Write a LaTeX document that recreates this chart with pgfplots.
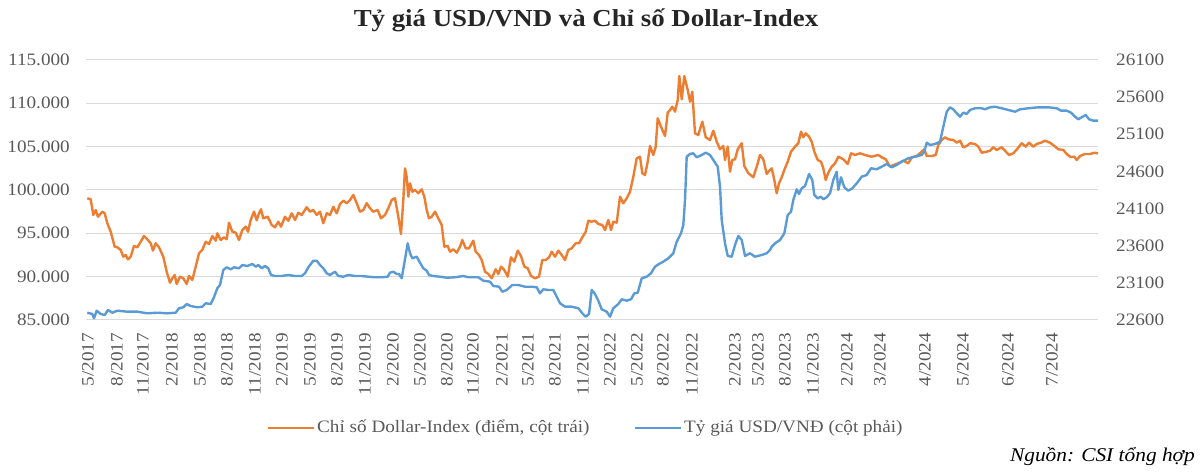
\documentclass[border=0pt]{standalone}
\usepackage{fontspec}
\setmainfont{Liberation Serif}[FakeStretch=1.1]
\usepackage{pgfplots}
\pgfplotsset{compat=1.18}
\definecolor{dxy}{RGB}{237,125,49}
\definecolor{vnd}{RGB}{91,155,213}
\definecolor{gridc}{RGB}{217,217,217}
\definecolor{txt}{RGB}{89,89,89}
\pgfplotstableread{
x v
87.3 99.04
90.7 98.93
93.3 97.12
95.7 97.69
98 96.92
102.3 97.50
104.7 97.31
107.3 96.16
110.7 95.19
114.7 93.46
117.3 93.39
120.7 93.08
123.3 92.30
125.7 92.50
128 92.00
130.7 92.30
134 93.54
137.3 93.39
140.7 94.03
144 94.69
147.3 94.31
150.7 93.85
153 93.00
155.7 93.85
159 93.39
163.3 92.30
166.7 90.57
170 89.30
172.3 89.81
174.7 90.19
176.7 89.15
180 90.00
183.3 89.81
186.7 89.15
189 90.08
192.3 89.62
195.7 91.15
199 92.70
202.3 93.08
205.7 94.03
209 93.77
212.3 94.69
215.7 94.15
217.3 95.00
220.7 94.23
224 94.54
226.7 94.31
229 96.23
232.3 95.19
235.7 95.07
239 94.23
242.3 95.38
245.7 95.77
248 95.19
250.7 96.54
254 97.50
256.7 96.50
259 97.30
261 97.77
263.3 96.73
267.7 96.92
271.7 95.96
275 95.70
278.3 96.34
281 95.77
285 96.92
288.3 96.46
291.7 97.31
295 96.54
298.3 97.38
301.7 97.12
306.7 98.00
310 97.50
313.3 97.69
316.7 97.12
320 97.50
323.3 96.16
326.7 97.31
330 97.12
333.3 98.07
336.7 97.31
340 98.38
343.3 98.77
346.7 98.47
350 98.85
353.3 99.42
356.7 98.47
360 97.50
363.3 97.69
366.7 98.47
370 97.89
373.3 97.50
377.7 97.69
381 96.73
385 97.12
388.3 97.89
391.7 98.85
395 99.04
398.3 96.92
401 94.92
403.3 98.85
405 102.50
406.7 101.53
408.3 99.23
410 100.77
412.3 99.80
415 100.00
418.3 99.62
421.7 100.08
424.3 99.23
426.7 97.69
429 96.73
431.7 96.92
435 97.50
438.3 96.73
441.7 95.96
444.3 93.46
447.7 93.54
450 92.88
453.3 93.16
456.7 92.77
460 93.46
462.3 94.23
465.7 93.27
469 93.27
473.3 94.15
475.7 92.88
479 92.50
481.7 91.92
485 90.57
488.3 90.31
491.7 89.81
495.7 90.85
498.3 90.31
501 91.15
504.3 90.77
507.7 90.00
511 92.23
514.3 91.73
517.7 93.00
521 92.38
524.3 91.15
527.7 90.97
531 90.08
535 89.81
539 90.00
542.3 91.92
545.7 91.92
549 92.23
551.7 92.88
555 92.30
558.3 93.00
561.7 92.50
565 91.92
568.3 93.08
571.7 93.27
575.7 93.85
579 93.85
582.3 94.54
585.7 95.19
588.3 96.46
591.7 96.34
595 96.46
598.3 96.08
602.3 95.96
605 95.38
608.3 96.54
611 95.38
613.3 96.34
616.7 96.23
620 99.23
623.3 98.47
626.7 99.04
630 99.80
633.3 101.53
636.7 103.66
640 103.84
642.3 101.93
645 101.73
647.7 103.27
650 105.08
653.3 104.04
655.7 105.00
657.7 108.27
661 107.30
665 106.23
667.7 108.92
670 109.23
672.3 109.61
675 109.04
677.7 110.38
679.3 113.15
681.7 110.47
684.3 113.15
687.7 111.54
690 110.19
692.3 111.34
695 106.54
698.3 106.35
702.3 107.88
705.7 106.08
710 105.77
713.3 106.84
716.7 105.57
720 104.70
723.3 105.08
725 103.46
727.7 105.00
730 102.11
732.3 103.46
735 103.54
737.7 104.70
741.7 105.39
744.3 102.77
748.3 101.93
753.3 101.47
756.7 102.69
760 104.04
763.3 103.54
766.7 101.85
768.3 102.11
771.7 102.50
774.3 101.15
776.7 99.62
779 100.77
781.7 101.47
784.3 102.31
787.7 103.27
791 104.42
795 105.00
798.3 105.39
801 106.73
803.3 106.08
805.7 106.54
809 106.15
811.7 105.57
814.3 104.42
817.7 103.46
821 103.27
823.3 102.50
825.7 101.15
828.3 102.00
831.7 102.69
835 103.08
838.3 103.84
843.3 103.54
847.7 103.00
851 104.23
855 104.04
860 104.23
865 104.04
871.7 103.84
878.3 104.04
881.7 103.77
885.7 103.54
890 102.69
893.3 102.88
898.3 103.08
903.3 103.38
908.3 103.08
911.7 103.77
916.7 103.92
921.7 104.42
924.3 104.70
926.7 103.92
931.7 103.92
935.7 104.04
938.3 105.19
941.7 105.77
945 106.08
948.3 105.85
953.3 105.77
956.7 105.46
960 105.69
963.3 104.93
966.7 105.08
970 105.39
975 105.31
978.3 105.00
981.7 104.30
986.7 104.42
990 104.53
993.3 104.93
996.7 104.62
1001.7 104.93
1005 104.53
1009 104.04
1013.3 104.23
1017.7 104.81
1021.7 105.39
1025.7 105.00
1029 105.46
1033.3 105.00
1036.7 105.31
1041 105.46
1045 105.69
1050 105.46
1054.3 105.08
1058.3 104.70
1063.3 104.62
1066.7 104.15
1070 103.84
1074.3 103.84
1076.7 103.46
1080 103.92
1085 104.15
1090 104.15
1094.3 104.30
1098 104.23
}\dxytable
\pgfplotstableread{
x v
87.3 22698
92.3 22681
94 22623
96.7 22725
100.7 22681
104.7 22667
108 22735
112.3 22698
117.3 22725
127.3 22712
137.3 22712
147.3 22690
157.3 22698
167.3 22690
175.7 22698
179 22758
183.3 22771
186.7 22815
190.7 22788
197.3 22771
202.3 22779
205.7 22825
210.7 22815
214 22906
217.3 23027
220 23071
223.3 23273
226.7 23309
230.7 23282
234 23309
239 23296
242.3 23340
247.3 23327
252.3 23354
255.7 23318
258.3 23340
261.7 23296
265 23327
268.3 23296
271 23206
275 23192
281.7 23192
288.3 23206
295 23192
301.7 23192
305 23229
308.3 23309
313.3 23398
316.7 23398
320 23340
323.3 23296
326.7 23229
330 23206
335 23250
338.3 23192
343.3 23183
348.3 23206
355 23192
361.7 23192
368.3 23183
375 23175
381.7 23175
387.7 23183
390 23237
393.3 23250
396.7 23219
399 23219
401.7 23161
404.3 23363
407.7 23632
410 23498
412.3 23431
416.7 23452
420 23371
423.3 23296
426.7 23264
429 23206
433.3 23192
440 23183
446.7 23169
455 23175
463.3 23192
468.3 23175
478.3 23175
483.3 23129
490 23116
493.3 23058
499 23048
502.3 22981
506.7 23004
512.3 23071
518.3 23071
525 23048
531.7 23048
536.7 23040
540 22959
543.3 23013
548.3 23004
553.3 23004
556.7 22914
560 22825
565 22779
571.7 22779
578.3 22758
582.3 22690
585.7 22644
589 22681
591.7 23004
595 22950
598.3 22860
601.7 22744
606.7 22712
610 22644
613.3 22758
618.3 22815
621.7 22879
626.7 22860
631 22879
634.3 22959
637.7 22967
641.7 23161
646.7 23183
651 23229
655 23318
659 23354
663.3 23385
668.3 23431
673.3 23498
676.7 23654
681 23767
683.3 23879
685 24215
686.7 24798
690 24835
693.3 24844
696.7 24790
701.7 24821
705.7 24852
710 24821
713.3 24754
717.7 24664
720 24394
721.7 23946
725 23632
727.7 23462
731.7 23452
735 23610
738.3 23731
741.7 23677
745 23462
750 23498
755 23452
761.7 23475
766.7 23498
770 23542
771.7 23587
775 23632
780 23677
784.3 23767
787.7 24013
791 24058
793.3 24215
796.7 24359
799 24296
801.7 24373
805 24404
809 24565
812.3 24485
814.3 24283
817.7 24238
821 24260
823.3 24225
826.7 24252
830 24306
833.3 24485
836.7 24596
838.3 24350
841 24521
844.3 24386
848.3 24341
852.3 24373
856.7 24440
861.7 24529
866.7 24552
871 24642
876.7 24629
881.7 24664
886.7 24700
891.7 24656
896.7 24687
901.7 24731
908.3 24777
915 24798
921.7 24821
924.3 24866
926.7 24987
930 24956
935 24969
940 25000
943.3 25202
946.7 25404
950 25463
953.3 25436
956.7 25382
960 25337
963.3 25391
966.7 25373
970 25427
975 25450
981.7 25450
985 25436
990 25463
995 25471
1001.7 25450
1008.3 25427
1015 25404
1020 25436
1028.3 25450
1038.3 25463
1048.3 25463
1056.7 25450
1061 25418
1066.7 25418
1071 25391
1075 25337
1078.3 25302
1081.7 25329
1085.7 25360
1089 25302
1093.3 25283
1098 25283
}\vndtable
\begin{document}
\begin{tikzpicture}[x=1bp,y=1bp]
\begin{axis}[at={(86bp,156bp)}, anchor=south west, scale only axis,
  width=1012bp, height=260bp,
  xmin=86, xmax=1098, ymin=85, ymax=115,
  axis line style={draw=none}, major tick length=0pt,
  ymajorgrids, grid style={gridc, line width=1bp},
  scaled y ticks=false,
  ytick={85,90,95,100,105,110,115},
  yticklabels={85.000,90.000,95.000,100.000,105.000,110.000,115.000},
  xtick={88,117,143,172,200,227,255,282,310,337,365,393,420,447,473,502,528,555,583,610,637,663,692,735,758,785,813,847,880,925,963,1008,1052},
  xticklabels={5/2017,8/2017,11/2017,2/2018,5/2018,8/2018,11/2018,2/2019,5/2019,8/2019,11/2019,2/2020,5/2020,8/2020,11/2020,2/2021,5/2021,8/2021,11/2021,2/2022,5/2022,8/2022,11/2022,2/2023,5/2023,8/2023,11/2023,2/2024,3/2024,4/2024,5/2024,6/2024,7/2024},
  tick label style={font=\fontsize{17.5}{18}\selectfont, text=txt},
  yticklabel style={anchor=east, inner sep=0pt, xshift=-16bp},
  xticklabel style={yshift=-13bp, rotate=90, anchor=east, inner sep=0pt},
]
\addplot[dxy, line width=2.4bp, line join=round] table[x=x, y=v] {\dxytable};
\end{axis}
\begin{axis}[at={(86bp,156bp)}, anchor=south west, scale only axis,
  width=1012bp, height=260bp,
  xmin=86, xmax=1098, ymin=22600, ymax=26100,
  hide x axis, axis y line*=right,
  axis line style={draw=none}, major tick length=0pt,
  scaled y ticks=false,
  ytick={22600,23100,23600,24100,24600,25100,25600,26100},
  yticklabels={22600,23100,23600,24100,24600,25100,25600,26100},
  tick label style={font=\fontsize{17.5}{18}\selectfont, text=txt},
  yticklabel style={anchor=west, inner sep=0pt, xshift=18bp},
]
\addplot[vnd, line width=2.4bp, line join=round] table[x=x, y=v] {\vndtable};
\end{axis}
\node[font=\bfseries\fontsize{24.5}{26}\selectfont, text={rgb,255:red,38;green,38;blue,38}] at (586,456) {Tỷ giá USD/VND và Chỉ số Dollar-Index};
\draw[dxy, line width=2.5bp] (268,48) -- (314,48);
\node[anchor=west, inner sep=0pt, font=\fontsize{17.5}{18}\selectfont, text=txt] at (317,48) {Chỉ số Dollar-Index (điểm, cột trái)};
\draw[vnd, line width=2.5bp] (635,48) -- (681,48);
\node[anchor=west, inner sep=0pt, font=\fontsize{17.5}{18}\selectfont, text=txt] at (684,48) {Tỷ giá USD/VNĐ (cột phải)};
\node[anchor=east, inner sep=0pt, font=\itshape\fontsize{19.5}{20}\selectfont] at (1195,19) {Nguồn: CSI tổng hợp};
\pgfresetboundingbox
\path[use as bounding box] (0,0) rectangle (1200,476);
\end{tikzpicture}
\end{document}
